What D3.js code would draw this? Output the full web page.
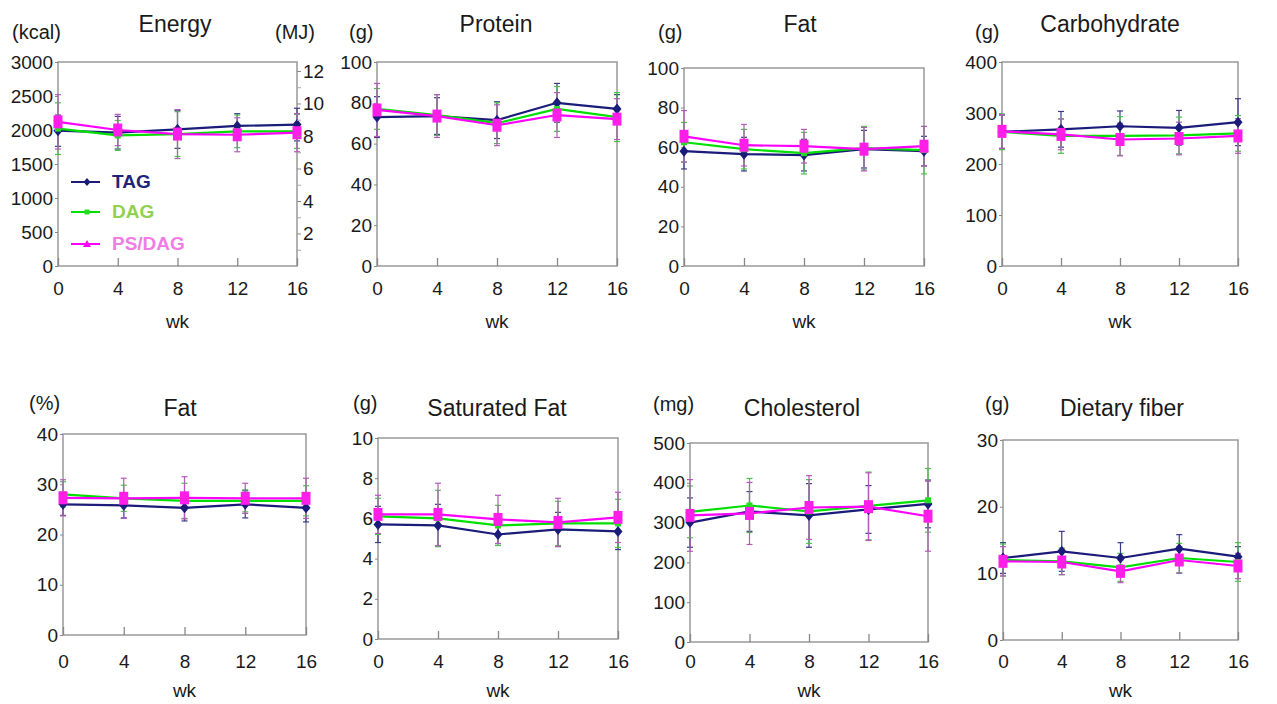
<!DOCTYPE html>
<html>
<head>
<meta charset="utf-8">
<script src="https://cdn.jsdelivr.net/npm/d3@7"></script>
<style>
body { margin: 0; background: #fff; }
text { font-family: "Liberation Sans", Arial, sans-serif; fill: #1a1a1a; }
</style>
</head>
<body>
<div id="chart"></div>
<script>
var weeks = [0, 4, 8, 12, 16]
var groups = ["TAG", "DAG", "PS/DAG"]
var titles = ["Energy", "Protein", "Fat", "Carbohydrate", "Fat", "Saturated Fat", "Cholesterol", "Dietary fiber"]
var units = ["(kcal)", "(g)", "(g)", "(g)", "(%)", "(g)", "(mg)", "(g)"]
var yMax = [3000, 100, 100, 400, 40, 10, 500, 30]
var yStep = [500, 20, 20, 100, 10, 2, 100, 10]
var mjTicks = [2, 4, 6, 8, 10, 12]
var mjMinor = [1, 3, 5, 7, 9, 11]

// each: [TAG, DAG, PS/DAG] rows over weeks
var energyMean = [[1990, 1960, 2010, 2060, 2080], [2020, 1920, 1940, 1980, 1980], [2120, 2000, 1940, 1930, 1960]]
var energySD = [[230, 240, 280, 180, 240], [380, 220, 330, 240, 250], [400, 230, 360, 250, 280]]
var proteinMean = [[73, 73.5, 71.5, 80, 77], [77, 74, 70, 77, 73], [76.5, 73.5, 69, 74, 72]]
var proteinSD = [[10, 9, 9, 9.5, 7], [10, 10, 10, 11, 12], [13, 10.5, 10, 11, 10]]
var fatMean = [[58, 56.5, 56, 59, 58], [62.5, 59, 57, 59.5, 58.5], [65.5, 61, 60.5, 59, 60.5]]
var fatSD = [[9, 8.5, 8, 9.5, 7.5], [10, 10, 10.5, 11, 12], [13, 10.5, 8.5, 11, 10]]
var carbMean = [[263, 268, 274, 271, 282], [263, 255, 255, 256, 260], [264, 258, 248, 250, 255]]
var carbSD = [[33, 35, 30, 34, 46], [35, 34, 38, 36, 35], [33, 30, 32, 32, 34]]
var fatPctMean = [[26, 25.8, 25.3, 26, 25.3], [28, 27.2, 26.7, 26.7, 26.7], [27.3, 27.2, 27.3, 27.2, 27.2]]
var fatPctSD = [[2.2, 2.5, 2.6, 2.7, 2.8], [2.5, 2.6, 3.5, 2.2, 3], [3.6, 4, 4.2, 3, 4]]
var satFatMean = [[5.7, 5.65, 5.2, 5.45, 5.35], [6.1, 6.0, 5.65, 5.75, 5.75], [6.2, 6.2, 5.95, 5.8, 6.05]]
var satFatSD = [[0.9, 1.05, 0.45, 0.85, 0.9], [0.9, 1.4, 1.0, 1.1, 1.2], [0.95, 1.55, 1.2, 1.2, 1.25]]
var cholMean = [[300, 328, 318, 333, 347], [327, 343, 328, 342, 356], [318, 323, 338, 340, 316]]
var cholSD = [[62, 50, 80, 60, 60], [65, 68, 80, 85, 80], [90, 78, 80, 85, 88]]
var fiberMean = [[12.3, 13.3, 12.3, 13.7, 12.5], [12, 11.8, 10.9, 12.3, 11.7], [11.8, 11.7, 10.3, 12, 11.1]]
var fiberSD = [[2.3, 3, 2.3, 2.1, 1.5], [2.4, 2, 2.1, 2.2, 2.9], [2.2, 1.9, 1.7, 2, 1.9]]

var means = [energyMean, proteinMean, fatMean, carbMean, fatPctMean, satFatMean, cholMean, fiberMean]
var sds = [energySD, proteinSD, fatSD, carbSD, fatPctSD, satFatSD, cholSD, fiberSD]

// frame boxes and text anchors, in pixels
var layout = [
    {x0: 58, x1: 297, y0: 62, y1: 266, tx: 175, ty: 32, ux: 12, uy: 39, lb: 295, wk: 328},
    {x0: 377, x1: 617, y0: 62, y1: 266, tx: 496, ty: 32, ux: 349, uy: 39, lb: 295, wk: 328},
    {x0: 684, x1: 924, y0: 68, y1: 266, tx: 800, ty: 32, ux: 658, uy: 39, lb: 295, wk: 328},
    {x0: 1002, x1: 1238, y0: 62, y1: 266, tx: 1110, ty: 32, ux: 975, uy: 39, lb: 295, wk: 328},
    {x0: 63, x1: 306, y0: 434, y1: 635, tx: 180, ty: 416, ux: 29, uy: 410, lb: 668, wk: 697},
    {x0: 378, x1: 618, y0: 438, y1: 639, tx: 497, ty: 416, ux: 353, uy: 410, lb: 668, wk: 697},
    {x0: 690, x1: 928, y0: 443, y1: 642, tx: 802, ty: 416, ux: 653, uy: 411, lb: 668, wk: 697},
    {x0: 1003, x1: 1238, y0: 440, y1: 640, tx: 1122, ty: 416, ux: 985, uy: 411, lb: 668, wk: 697}
]

var lineColor = ["#1b1b7a", "#00e000", "#ff00ff"]
var barColor = ["#3a3a8c", "#4cc24c", "#b45ab8"]
var labelColor = ["#1e2478", "#8fd14f", "#f07ce6"]

var svg = d3.select("#chart").append("svg")
    .attr("width", 1277)
    .attr("height", 704)

function marker(g, k, x, y, small) {
    if (k == 0) {
        var w = small ? 3.5 : 4.5, h = small ? 4 : 5.5
        g.append("path")
            .attr("d", "M" + x + "," + (y - h) + "L" + (x + w) + "," + y + "L" + x + "," + (y + h) + "L" + (x - w) + "," + y + "Z")
            .attr("fill", lineColor[0])
    } else if (k == 1) {
        var s = small ? 5 : 6
        g.append("rect").attr("x", x - s / 2).attr("y", y - s / 2)
            .attr("width", s).attr("height", s).attr("fill", "#22dd22")
    } else if (small) {
        g.append("path")
            .attr("d", "M" + x + "," + (y - 4) + "L" + (x + 4) + "," + (y + 3) + "L" + (x - 4) + "," + (y + 3) + "Z")
            .attr("fill", "#ff00ff")
    } else {
        g.append("rect").attr("x", x - 4.5).attr("y", y - 6.5)
            .attr("width", 9).attr("height", 13).attr("fill", "#ff1ee8")
    }
}

function drawPanel(i) {
    var L = layout[i]
    var g = svg.append("g")
    var x = d3.scaleLinear().domain([0, 16]).range([L.x0, L.x1])
    var y = d3.scaleLinear().domain([0, yMax[i]]).range([L.y1, L.y0])

    g.append("rect")
        .attr("x", L.x0).attr("y", L.y0)
        .attr("width", L.x1 - L.x0).attr("height", L.y1 - L.y0)
        .attr("fill", "none").attr("stroke", "#999").attr("stroke-width", 1.5)

    var xAxis = g.append("g")
        .attr("transform", "translate(0," + L.y1 + ")")
        .call(d3.axisBottom(x).tickValues(weeks).tickSize(-8).tickPadding(L.lb - L.y1 - 13.5))
    xAxis.select(".domain").remove()
    xAxis.selectAll("line").attr("stroke", "#888").attr("stroke-width", 1.3)
    xAxis.selectAll("text").attr("font-size", 19).attr("fill", "#1a1a1a")

    var yAxis = g.append("g")
        .attr("transform", "translate(" + L.x0 + ",0)")
        .call(d3.axisLeft(y)
            .tickValues(d3.range(0, yMax[i] + yStep[i] / 2, yStep[i]))
            .tickFormat(d3.format("d"))
            .tickSize(3).tickPadding(2))
    yAxis.select(".domain").remove()
    yAxis.selectAll("line").attr("stroke", "#888")
    yAxis.selectAll("text").attr("font-size", 19).attr("fill", "#1a1a1a")

    g.append("text").attr("x", L.tx).attr("y", L.ty)
        .attr("text-anchor", "middle").attr("font-size", 23).text(titles[i])
    g.append("text").attr("x", L.ux).attr("y", L.uy)
        .attr("font-size", 20).text(units[i])
    g.append("text").attr("x", (L.x0 + L.x1) / 2).attr("y", L.wk)
        .attr("text-anchor", "middle").attr("font-size", 19).text("wk")

    groups.forEach(function(name, k) {
        var m = means[i][k], s = sds[i][k]
        var bars = g.append("g").attr("stroke", barColor[k]).attr("stroke-width", 1.2)
        weeks.forEach(function(w, j) {
            var cx = x(w)
            bars.append("line").attr("x1", cx).attr("x2", cx)
                .attr("y1", y(m[j] - s[j])).attr("y2", y(m[j] + s[j]))
            bars.append("line").attr("x1", cx - 3).attr("x2", cx + 3)
                .attr("y1", y(m[j] + s[j])).attr("y2", y(m[j] + s[j]))
            bars.append("line").attr("x1", cx - 3).attr("x2", cx + 3)
                .attr("y1", y(m[j] - s[j])).attr("y2", y(m[j] - s[j]))
        })
    })

    groups.forEach(function(name, k) {
        var m = means[i][k]
        var line = d3.line().x(function(d, j) { return x(weeks[j]) }).y(function(d) { return y(d) })
        g.append("path").datum(m)
            .attr("d", line).attr("fill", "none")
            .attr("stroke", lineColor[k]).attr("stroke-width", 2.2)
        m.forEach(function(v, j) { marker(g, k, x(weeks[j]), y(v), false) })
    })

    return {g: g, y: y, L: L}
}

for (var i = 0; i < 8; i++) {
    var p = drawPanel(i)
    if (i == 0) {
        // second axis in MJ
        var mj = d3.scaleLinear().domain([0, yMax[0] * 4.184 / 1000]).range([p.L.y1, p.L.y0])
        var right = p.g.append("g")
            .attr("transform", "translate(" + p.L.x1 + ",0)")
            .call(d3.axisRight(mj).tickValues(mjTicks).tickSize(4).tickPadding(2))
        right.select(".domain").remove()
        right.selectAll("line").attr("stroke", "#888")
        right.selectAll("text").attr("font-size", 19).attr("fill", "#1a1a1a")
        var minor = p.g.append("g")
            .attr("transform", "translate(" + p.L.x1 + ",0)")
            .call(d3.axisRight(mj).tickValues(mjMinor).tickSize(4).tickFormat(""))
        minor.select(".domain").remove()
        minor.selectAll("line").attr("stroke", "#aaa")
        p.g.append("text").attr("x", 275).attr("y", 39).attr("font-size", 20).text("(MJ)")

        var legY = [182, 212, 244]
        groups.forEach(function(name, k) {
            p.g.append("line").attr("x1", 71).attr("x2", 100)
                .attr("y1", legY[k]).attr("y2", legY[k])
                .attr("stroke", lineColor[k]).attr("stroke-width", 2)
            marker(p.g, k, 87, legY[k], true)
            p.g.append("text").attr("x", 112).attr("y", legY[k] + 6)
                .attr("font-size", 19).attr("font-weight", "bold")
                .style("fill", labelColor[k]).text(name)
        })
    }
}
</script>
</body>
</html>
